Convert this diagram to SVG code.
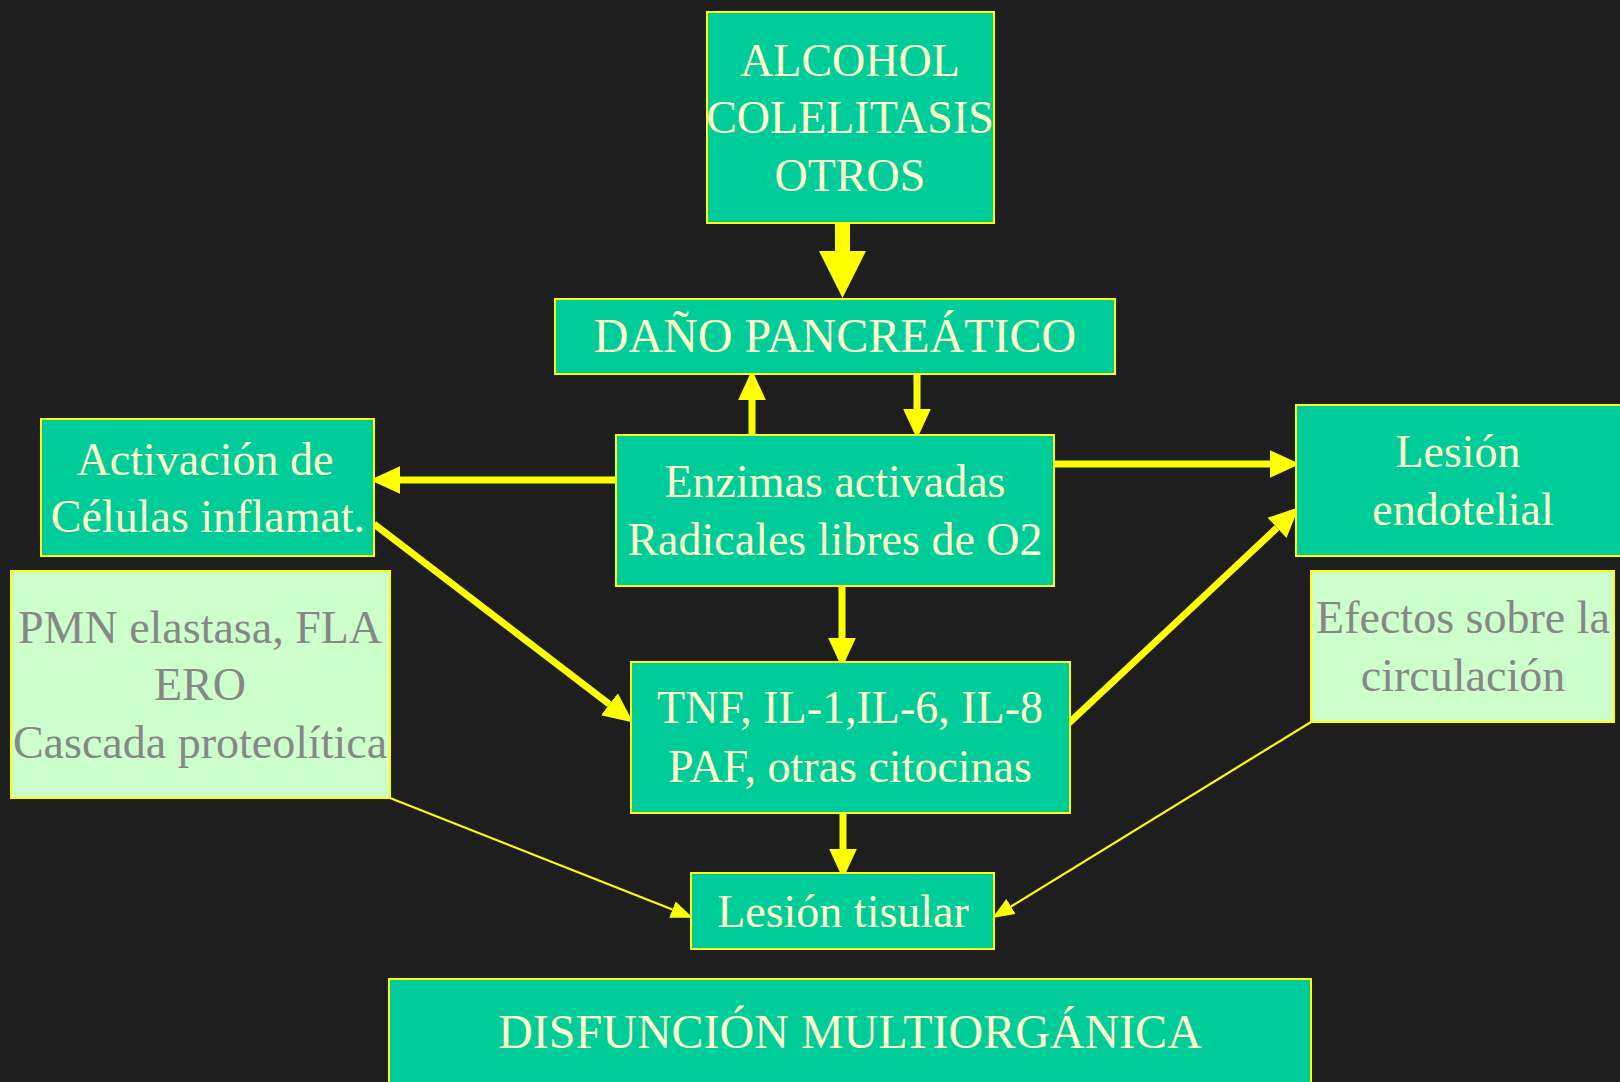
<svg xmlns="http://www.w3.org/2000/svg" width="1620" height="1082" viewBox="0 0 1620 1082">
<style>
.box{fill:#00CC99;stroke:#FFFF00;stroke-width:2}
.note{fill:#CCFFCC;stroke:#FFFF00;stroke-width:2}
.t{font-family:"Liberation Serif","Times New Roman",serif;font-size:46px;fill:#FFFFCC;text-anchor:middle}
.caps{font-size:48px}
.g{fill:#878787}
.thick{stroke:#FFFF00;stroke-width:7;fill:none;marker-end:url(#ah)}
.thin{stroke:#FFFF00;stroke-width:2.2;fill:none;marker-end:url(#ahs)}
</style>
<defs>
<marker id="ah" markerUnits="userSpaceOnUse" markerWidth="30" markerHeight="30" refX="0" refY="12" orient="auto" viewBox="0 0 26 24">
<path d="M0,0 L26,12 L0,24 Z" fill="#FFFF00"/>
</marker>
<marker id="ahs" markerUnits="userSpaceOnUse" markerWidth="22" markerHeight="18" refX="0" refY="8" orient="auto" viewBox="0 0 20 16">
<path d="M0,0 L20,8 L0,16 Z" fill="#FFFF00"/>
</marker>
</defs>
<rect width="1620" height="1082" fill="#1E1E1E"/>
<g id="connectors">
<polygon points="835,223 850,223 850,251 866,251 842.5,298 819,251 835,251" fill="#FFFF00"/>
<path class="thick" d="M616,480 L400,480"/>
<path class="thick" d="M1054,464 L1270,464"/>
<path class="thick" d="M752,435 L752,400"/>
<path class="thick" d="M917,374 L917,409"/>
<path class="thick" d="M842,586 L842,638"/>
<path class="thick" d="M843,813 L843,849"/>
<path class="thick" d="M374,524 L609.4,704.2"/>
<path class="thick" d="M1069,723 L1277,527.8"/>
<path class="thin" d="M390,798 L672.4,909.6"/>
<path class="thin" d="M1311,722 L1011,906.5"/>
</g>
<g id="alcohol">
<rect class="box" x="707" y="12" width="287" height="211"/>
<text class="t" x="850" y="76">ALCOHOL</text>
<text class="t" x="850" y="133">COLELITASIS</text>
<text class="t" x="850" y="191">OTROS</text>
</g>
<g id="dano">
<rect class="box" x="555" y="299" width="560" height="75"/>
<text class="t caps" x="835" y="352">DAÑO PANCREÁTICO</text>
</g>
<g id="activacion">
<rect class="box" x="41" y="419" width="333" height="137"/>
<text class="t" x="205" y="475">Activación de</text>
<text class="t" x="208" y="532">Células inflamat.</text>
</g>
<g id="enzimas">
<rect class="box" x="616" y="435" width="438" height="151"/>
<text class="t" x="835" y="497">Enzimas activadas</text>
<text class="t" x="835" y="555">Radicales libres de O2</text>
</g>
<g id="endotelial">
<rect class="box" x="1296" y="405" width="330" height="151"/>
<text class="t" x="1458" y="467">Lesión</text>
<text class="t" x="1463" y="525">endotelial</text>
</g>
<g id="pmn">
<rect class="note" x="11" y="571" width="379" height="227"/>
<text class="t g" x="200" y="643">PMN elastasa, FLA</text>
<text class="t g" x="200" y="700">ERO</text>
<text class="t g" x="200" y="758">Cascada proteolítica</text>
</g>
<g id="efectos">
<rect class="note" x="1311" y="571" width="303" height="151"/>
<text class="t g" x="1463" y="633">Efectos sobre la</text>
<text class="t g" x="1463" y="691">circulación</text>
</g>
<g id="tnf">
<rect class="box" x="631" y="662" width="439" height="151"/>
<text class="t" x="850" y="723">TNF, IL-1,IL-6, IL-8</text>
<text class="t" x="850" y="782">PAF, otras citocinas</text>
</g>
<g id="tisular">
<rect class="box" x="691" y="873" width="303" height="76"/>
<text class="t" x="843" y="927">Lesión tisular</text>
</g>
<g id="disfuncion">
<rect class="box" x="389" y="979" width="922" height="120"/>
<text class="t caps" x="850" y="1048">DISFUNCIÓN MULTIORGÁNICA</text>
</g>
</svg>
